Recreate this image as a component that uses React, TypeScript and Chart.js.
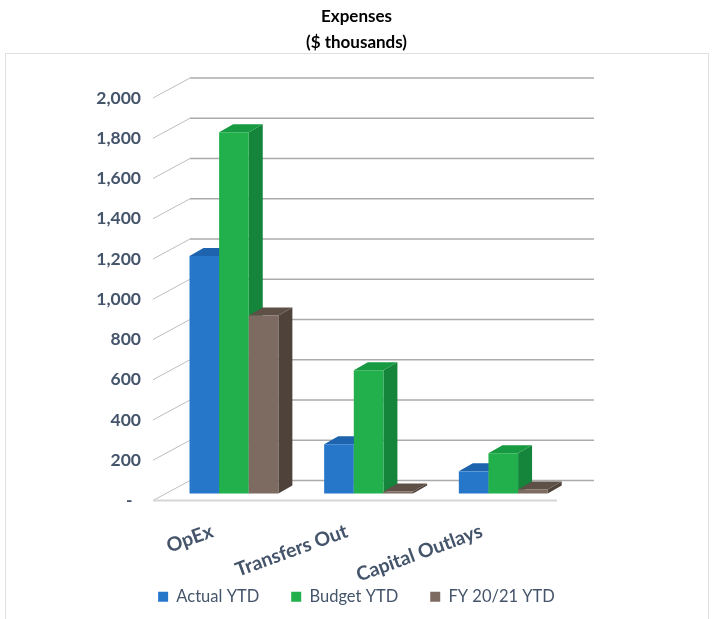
import React, { useEffect, useRef } from 'react';
import { Chart, registerables } from 'chart.js';

Chart.register(...registerables);

const categories = ['OpEx', 'Transfers Out', 'Capital Outlays'];
const seriesLabels = ['Actual YTD', 'Budget YTD', 'FY 20/21 YTD'];
const actualYTD = [1180, 245, 110];
const budgetYTD = [1795, 612, 200];
const fy2021YTD = [885, 10, 20];
const yTickValues = [0, 200, 400, 600, 800, 1000, 1200, 1400, 1600, 1800, 2000];
const yTickLabels = ['-  ', '200', '400', '600', '800', '1,000', '1,200', '1,400', '1,600', '1,800', '2,000'];

const frontColors = ['#2677C9', '#21B04B', '#7D6B61'];
const sideColors = ['#1A5BA3', '#14853A', '#4E423A'];
const topColors = ['#1D63AD', '#179A41', '#5E5047'];

const WALL_DX = 37;
const WALL_DY = 20;
const BAR_SX = 13.6;
const BAR_SY = 7;
const BAR_DX = 14;
const BAR_DY = 8;

const threeD = {
  id: 'threeD',
  beforeDatasetsDraw(chart: any) {
    const { ctx, chartArea } = chart;
    const { left, right, bottom } = chartArea;
    const y = chart.scales.y;
    ctx.save();
    ctx.strokeStyle = '#DCE1E6';
    ctx.lineWidth = 1;
    ctx.strokeRect(5.5, 53.5, 703, 700);
    y.ticks.forEach((t: any) => {
      const py = y.getPixelForValue(t.value);
      ctx.beginPath();
      ctx.moveTo(left, py);
      ctx.lineTo(left + WALL_DX, py - WALL_DY);
      ctx.strokeStyle = '#BDBDBD';
      ctx.lineWidth = 1;
      ctx.stroke();
      ctx.beginPath();
      ctx.moveTo(left + WALL_DX, py - WALL_DY);
      ctx.lineTo(right + WALL_DX, py - WALL_DY);
      ctx.strokeStyle = '#ABABAB';
      ctx.lineWidth = 1.5;
      ctx.stroke();
    });
    ctx.beginPath();
    ctx.moveTo(left, bottom);
    ctx.lineTo(right, bottom);
    ctx.strokeStyle = '#D6D6D6';
    ctx.lineWidth = 2;
    ctx.stroke();

    const n = chart.data.labels.length;
    const nd = chart.data.datasets.length;
    for (let i = 0; i < n; i++) {
      for (let d = 0; d < nd; d++) {
        const el = chart.getDatasetMeta(d).data[i];
        const p = el.getProps(['x', 'y', 'base', 'width'], true);
        const xl = p.x - p.width / 2 + BAR_SX;
        const xr = p.x + p.width / 2 + BAR_SX;
        const yt = p.y - BAR_SY;
        const yb = p.base - BAR_SY;
        ctx.fillStyle = sideColors[d];
        ctx.beginPath();
        ctx.moveTo(xr, yt);
        ctx.lineTo(xr + BAR_DX, yt - BAR_DY);
        ctx.lineTo(xr + BAR_DX, yb - BAR_DY);
        ctx.lineTo(xr, yb);
        ctx.closePath();
        ctx.fill();
        ctx.fillStyle = topColors[d];
        ctx.beginPath();
        ctx.moveTo(xl, yt);
        ctx.lineTo(xl + BAR_DX, yt - BAR_DY);
        ctx.lineTo(xr + BAR_DX, yt - BAR_DY);
        ctx.lineTo(xr, yt);
        ctx.closePath();
        ctx.fill();
        ctx.save();
        ctx.translate(BAR_SX, -BAR_SY);
        el.draw(ctx);
        ctx.restore();
      }
    }
    ctx.restore();
    return false;
  },
};

export default function App() {
  const ref = useRef<HTMLCanvasElement>(null);
  useEffect(() => {
    document.body.style.margin = '0';
    const seriesValues = [actualYTD, budgetYTD, fy2021YTD];
    const chart = new Chart(ref.current as HTMLCanvasElement, {
      type: 'bar',
      data: {
        labels: categories,
        datasets: seriesValues.map((vals, i) => ({
          label: seriesLabels[i],
          data: vals,
          backgroundColor: frontColors[i],
          borderWidth: 0,
          categoryPercentage: 0.66,
          barPercentage: 1.0,
        })),
      },
      options: {
        animation: false,
        responsive: true,
        maintainAspectRatio: false,
        layout: { padding: { left: 0, right: 0, top: 0, bottom: 4 } },
        plugins: {
          title: {
            display: true,
            text: ['Expenses', '($ thousands)'],
            color: '#000000',
            font: { family: 'Lato', size: 17, weight: 'bold', lineHeight: 26 / 17 },
            padding: { top: 4, bottom: 42 },
          },
          legend: {
            position: 'bottom',
            labels: {
              boxWidth: 10,
              boxHeight: 10,
              padding: 32,
              color: '#44546A',
              font: { family: 'Lato', size: 16.5 },
            },
          },
          tooltip: { enabled: false },
        },
        scales: {
          x: {
            grid: { display: false, drawTicks: false },
            border: { display: false },
            ticks: {
              font: { family: 'Lato', size: 19.5, weight: 'bold' },
              color: '#44546A',
              minRotation: 20,
              maxRotation: 20,
              autoSkip: false,
              mirror: true,
              padding: -41,
              labelOffset: 0,
            },
            afterFit: (s: any) => {
              s.height = 56;
            },
          },
          y: {
            min: 0,
            max: 2000,
            grid: { display: false, drawTicks: false },
            border: { display: false },
            afterBuildTicks: (s: any) => {
              s.ticks = yTickValues.map((v) => ({ value: v }));
            },
            ticks: {
              font: { family: 'Lato', size: 17.5, weight: 'bold' },
              color: '#44546A',
              padding: 12,
              callback: (v: any) => {
                const idx = yTickValues.indexOf(Number(v));
                return idx >= 0 ? yTickLabels[idx] : '';
              },
            },
            afterFit: (s: any) => {
              s.width = 153;
            },
          },
          y2: {
            position: 'right',
            display: true,
            grid: { display: false, drawTicks: false },
            border: { display: false },
            ticks: { display: false },
            afterFit: (s: any) => {
              s.width = 156;
            },
          },
        },
      },
      plugins: [threeD],
    } as any);
    return () => chart.destroy();
  }, []);
  return (
    <div style={{ width: 713, height: 619, position: 'relative' }}>
      <canvas ref={ref} />
    </div>
  );
}
